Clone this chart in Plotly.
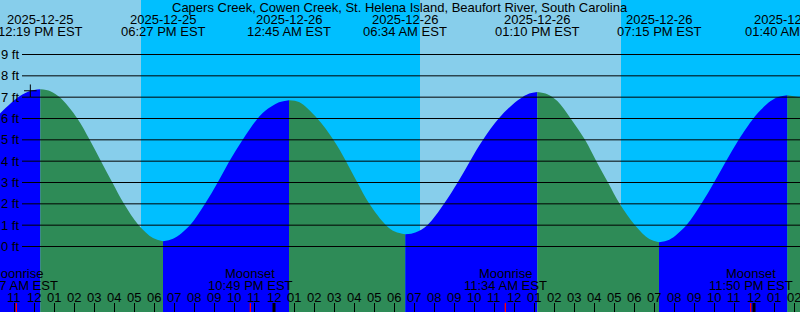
import pandas as pd
import plotly.graph_objects as go

# ---------------- data ----------------
title = "Capers Creek, Cowen Creek, St. Helena Island, Beaufort River, South Carolina"

x_start = "2025-12-25 10:18"
x_end = "2025-12-27 02:18"

# tide extremes (labelled along the top)
ext_time = ["2025-12-25 12:19", "2025-12-25 18:27", "2025-12-26 00:45", "2025-12-26 06:34",
            "2025-12-26 13:10", "2025-12-26 19:15", "2025-12-27 01:40"]
ext_ft = [7.37, 0.25, 6.86, 0.57, 7.24, 0.20, 7.09]
ext_date_label = ["2025-12-25", "2025-12-25", "2025-12-26", "2025-12-26",
                  "2025-12-26", "2025-12-26", "2025-12-27"]
ext_time_label = ["12:19 PM EST", "06:27 PM EST", "12:45 AM EST", "06:34 AM EST",
                  "01:10 PM EST", "07:15 PM EST", "01:40 AM EST"]

# tide height samples (ft)
curve_time = [
    "2025-12-25 10:18", "2025-12-25 10:48", "2025-12-25 11:18", "2025-12-25 11:48",
    "2025-12-25 12:49", "2025-12-25 13:19", "2025-12-25 14:10", "2025-12-25 14:47",
    "2025-12-25 15:21", "2025-12-25 15:55", "2025-12-25 16:30", "2025-12-25 17:14",
    "2025-12-25 17:57",
    "2025-12-25 18:57", "2025-12-25 19:48", "2025-12-25 20:33", "2025-12-25 21:11",
    "2025-12-25 21:46", "2025-12-25 22:26", "2025-12-25 23:11", "2025-12-25 23:33",
    "2025-12-26 00:15",
    "2025-12-26 01:15", "2025-12-26 02:10", "2025-12-26 02:58", "2025-12-26 03:36",
    "2025-12-26 04:10", "2025-12-26 04:46", "2025-12-26 05:36", "2025-12-26 06:04",
    "2025-12-26 07:04", "2025-12-26 07:40", "2025-12-26 08:30", "2025-12-26 09:11",
    "2025-12-26 09:48", "2025-12-26 10:27", "2025-12-26 11:14", "2025-12-26 12:01",
    "2025-12-26 12:25", "2025-12-26 12:41",
    "2025-12-26 13:40", "2025-12-26 14:10", "2025-12-26 14:50", "2025-12-26 15:33",
    "2025-12-26 16:07", "2025-12-26 16:42", "2025-12-26 17:17", "2025-12-26 18:03",
    "2025-12-26 18:46",
    "2025-12-26 19:46", "2025-12-26 20:37", "2025-12-26 21:22", "2025-12-26 22:00",
    "2025-12-26 22:36", "2025-12-26 23:14", "2025-12-26 23:58", "2025-12-27 00:20",
    "2025-12-27 00:50", "2025-12-27 01:10",
    "2025-12-27 02:18",
]
curve_ft = [
    6.24, 6.68, 7.05, 7.29,
    7.28, 6.97, 6.00, 5.00, 4.00, 3.00, 2.00, 1.00, 0.40,
    0.36, 1.00, 2.00, 3.00, 4.00, 5.00, 6.00, 6.35, 6.76,
    6.77, 6.00, 5.00, 4.00, 3.00, 2.00, 1.00, 0.69,
    0.66, 1.00, 2.00, 3.00, 4.00, 5.00, 6.00, 6.73, 7.00, 7.14,
    7.14, 6.82, 6.00, 5.00, 4.00, 3.00, 2.00, 1.00, 0.35,
    0.32, 1.00, 2.00, 3.00, 4.00, 5.00, 6.00, 6.40, 6.82, 7.00,
    7.00,
]

# sun: night intervals
night_start = ["2025-12-25 17:21", "2025-12-26 17:21"]
night_end = ["2025-12-26 07:18", "2025-12-27 02:18"]

# moon events
moon_time = ["2025-12-25 11:07", "2025-12-25 22:49", "2025-12-26 11:34", "2025-12-26 23:50"]
moon_kind = ["Moonrise", "Moonset", "Moonrise", "Moonset"]
moon_label = ["11:07 AM EST", "10:49 PM EST", "11:34 AM EST", "11:50 PM EST"]

# current-time mark
now_time = ["2025-12-25 11:49"]
now_ft = [7.30]

ft_levels = [0, 1, 2, 3, 4, 5, 6, 7, 8, 9]

# ---------------- styling ----------------
W, H = 800, 312
DAY = "#87CEEB"
NIGHT = "#00BFFF"
FLOOD = "#0000FF"
EBB = "#2E8B57"
FONT = dict(family="Liberation Sans, Arial, sans-serif", size=13, color="black")
Y_RANGE = [-3.0703, 11.5547]


def py(px):
    """pixel row -> paper y"""
    return 1 - px / H


fig = go.Figure()

# split the curve at each extreme into flood / ebb segments
pts = sorted(zip(pd.to_datetime(curve_time + ext_time), curve_ft + ext_ft))
ext_set = set(pd.to_datetime(ext_time))
segments, cur = [], [pts[0]]
for p in pts[1:]:
    cur.append(p)
    if p[0] in ext_set:
        segments.append(cur)
        cur = [p]
if len(cur) > 1:
    segments.append(cur)

for seg in segments:
    xs = [p[0] for p in seg]
    ys = [p[1] for p in seg]
    color = FLOOD if ys[-1] > ys[0] else EBB
    fig.add_trace(go.Scatter(x=[xs[0], xs[-1]], y=[-6, -6], mode="lines",
                             line=dict(width=0), hoverinfo="skip", showlegend=False))
    fig.add_trace(go.Scatter(x=xs, y=ys, mode="lines",
                             line=dict(width=0, shape="spline", smoothing=1.0),
                             fill="tonexty", fillcolor=color,
                             hoverinfo="skip", showlegend=False))

# current time mark
fig.add_trace(go.Scatter(x=now_time, y=now_ft, mode="markers",
                         marker=dict(symbol="cross-thin", size=9,
                                     line=dict(width=1, color="black")),
                         hoverinfo="skip", showlegend=False))

shapes = []
for s, e in zip(night_start, night_end):
    shapes.append(dict(type="rect", xref="x", yref="paper", x0=s, x1=e, y0=0, y1=1,
                       fillcolor=NIGHT, line=dict(width=0), layer="below"))
for lv in ft_levels:
    shapes.append(dict(type="line", xref="paper", yref="y", x0=22 / W, x1=1, y0=lv, y1=lv,
                       line=dict(color="black", width=1), layer="above"))
for t in moon_time:
    shapes.append(dict(type="line", xref="x", yref="paper", x0=t, x1=t, y0=0, y1=9 / H,
                       line=dict(color="red", width=1.3), layer="above"))
midnights = pd.date_range(pd.Timestamp(x_start).ceil("D"), pd.Timestamp(x_end), freq="D")
for t in midnights:
    shapes.append(dict(type="line", xref="x", yref="paper", x0=t, x1=t, y0=0, y1=9 / H,
                       line=dict(color="black", width=3), layer="above"))

ann = []
ann.append(dict(text=title, x=0.5, xref="paper", y=py(7.2), yref="paper",
                xanchor="center", yanchor="middle", showarrow=False, font=FONT))
for t, d, tl in zip(ext_time, ext_date_label, ext_time_label):
    ann.append(dict(text=d, x=t, xref="x", y=py(19.5), yref="paper",
                    xanchor="center", yanchor="middle", showarrow=False, font=FONT))
    ann.append(dict(text=tl, x=t, xref="x", y=py(31.3), yref="paper",
                    xanchor="center", yanchor="middle", showarrow=False, font=FONT))
for lv in ft_levels:
    ann.append(dict(text=f"{lv} ft", x=21 / W, xref="paper", y=lv, yref="y",
                    xanchor="right", yanchor="middle", showarrow=False, font=FONT))
for t, k, lab in zip(moon_time, moon_kind, moon_label):
    ann.append(dict(text=k, x=t, xref="x", y=py(273.5), yref="paper",
                    xanchor="center", yanchor="middle", showarrow=False, font=FONT))
    ann.append(dict(text=lab, x=t, xref="x", y=py(285.3), yref="paper",
                    xanchor="center", yanchor="middle", showarrow=False, font=FONT))
hours = pd.date_range(pd.Timestamp(x_start).ceil("h"), pd.Timestamp(x_end), freq="h")
for t in hours:
    ann.append(dict(text=t.strftime("%I"), x=t, xref="x", y=py(297.4), yref="paper",
                    xanchor="center", yanchor="middle", showarrow=False, font=FONT))

fig.update_layout(
    width=W, height=H, margin=dict(l=0, r=0, t=0, b=0, pad=0, autoexpand=False),
    paper_bgcolor=DAY, plot_bgcolor=DAY, showlegend=False,
    shapes=shapes, annotations=ann, font=FONT,
    xaxis=dict(type="date", range=[x_start, x_end], showgrid=False, zeroline=False,
               showline=False, showticklabels=False, ticks="inside", ticklen=9,
               tickwidth=1, tickcolor="black", tick0="2025-12-25 00:00",
               dtick=3600000, layer="above traces", fixedrange=True),
    yaxis=dict(range=Y_RANGE, showgrid=False, zeroline=False, showline=False,
               showticklabels=False, ticks="", fixedrange=True),
)

fig.write_html("out.html")
